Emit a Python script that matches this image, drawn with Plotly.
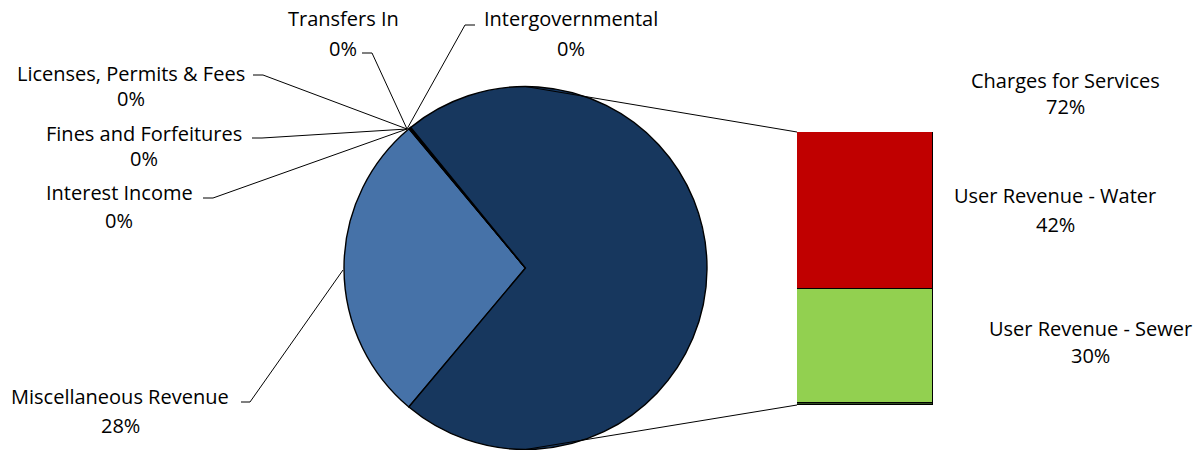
import plotly.graph_objects as go

W, H = 1202, 450

# Revenue shares (percent of total)
pie_labels = ["Miscellaneous Revenue", "Intergovernmental", "Transfers In",
              "Licenses, Permits & Fees", "Fines and Forfeitures", "Interest Income",
              "Charges for Services"]
pie_values = [27.8, 0.04, 0.04, 0.04, 0.04, 0.04, 72.0]
pie_colors = ["#4672A8", "#1F3864", "#1F3864", "#1F3864", "#1F3864", "#1F3864", "#17375E"]

# Breakdown of Charges for Services (bottom to top)
bar_labels = ["Other Charges", "User Revenue - Sewer", "User Revenue - Water"]
bar_values = [0.5, 30.0, 41.5]
bar_colors = ["#2E4A1E", "#92D050", "#C00000"]


def px(x):
    return x / W


def py(y):
    return 1 - y / H


FONT = dict(family="Open Sans", size=20, color="#000000")

fig = go.Figure()

# main pie
cx, cy, r = 525.5, 268, 181.5
fig.add_trace(go.Pie(
    labels=pie_labels, values=pie_values, sort=False, direction="clockwise",
    rotation=220, textinfo="none", hoverinfo="label+percent",
    marker=dict(colors=pie_colors, line=dict(color="#000000", width=1.4)),
    domain=dict(x=[px(cx - r), px(cx + r)], y=[py(cy + r), py(cy - r)]),
    showlegend=False,
))

# stacked bar for the breakdown
for lab, val, col in zip(bar_labels, bar_values, bar_colors):
    fig.add_trace(go.Bar(
        x=["Charges"], y=[val], name=lab, marker=dict(color=col, line=dict(color="#000000", width=1.4)),
        showlegend=False, xaxis="x", yaxis="y",
    ))

bar_left, bar_right, bar_top, bar_bottom = 797, 933, 132, 405
fig.update_layout(
    width=W, height=H, margin=dict(l=0, r=0, t=0, b=0),
    paper_bgcolor="#FFFFFF", plot_bgcolor="rgba(0,0,0,0)",
    barmode="stack", bargap=0,
    xaxis=dict(domain=[px(bar_left), px(bar_right)], visible=False, fixedrange=True),
    yaxis=dict(domain=[py(bar_bottom), py(bar_top)], range=[0, sum(bar_values)], visible=False, fixedrange=True),
    font=FONT,
)

# connector lines from pie to bar
line_style = dict(color="#000000", width=1)
fig.add_shape(type="line", xref="paper", yref="paper", x0=px(cx), y0=py(cy - r), x1=px(bar_left), y1=py(bar_top), line=line_style)
fig.add_shape(type="line", xref="paper", yref="paper", x0=px(cx), y0=py(cy + r), x1=px(bar_left), y1=py(bar_bottom), line=line_style)

# data labels: (name, value, name center x, name center y, pct center y, leader points)
hub = (407, 129)
labels = [
    ("Transfers In", pie_values[2], 343, 18, 48, [(362, 53), (372, 53), hub]),
    ("Intergovernmental", pie_values[1], 571, 18, 48, [(475, 25), (465, 25), hub]),
    ("Licenses, Permits & Fees", pie_values[3], 131, 73, 99, [(253, 75), (263, 75), hub]),
    ("Fines and Forfeitures", pie_values[4], 144, 133, 159, [(252, 138), (262, 138), hub]),
    ("Interest Income", pie_values[5], 119, 192, 221, [(203, 198), (213, 198), hub]),
    ("Miscellaneous Revenue", pie_values[0], 120, 396, 425, [(241, 402), (250, 402), (343, 270)]),
    ("Charges for Services", sum(bar_values), 1065, 80, 107, None),
    ("User Revenue - Water", bar_values[2], 1055, 196, 224, None),
    ("User Revenue - Sewer", bar_values[1], 1090, 328, 355, None),
]

for name, val, x, yn, yp, leader in labels:
    fig.add_annotation(text=name, x=px(x), y=py(yn), xref="paper", yref="paper",
                       showarrow=False, font=FONT, xanchor="center", yanchor="middle")
    fig.add_annotation(text=f"{val:.0f}%", x=px(x), y=py(yp), xref="paper", yref="paper",
                       showarrow=False, font=FONT, xanchor="center", yanchor="middle")
    if leader:
        path = "M " + " L ".join(f"{px(a)},{py(b)}" for a, b in leader)
        fig.add_shape(type="path", xref="paper", yref="paper", path=path, line=line_style)

fig.write_html("out.html")
